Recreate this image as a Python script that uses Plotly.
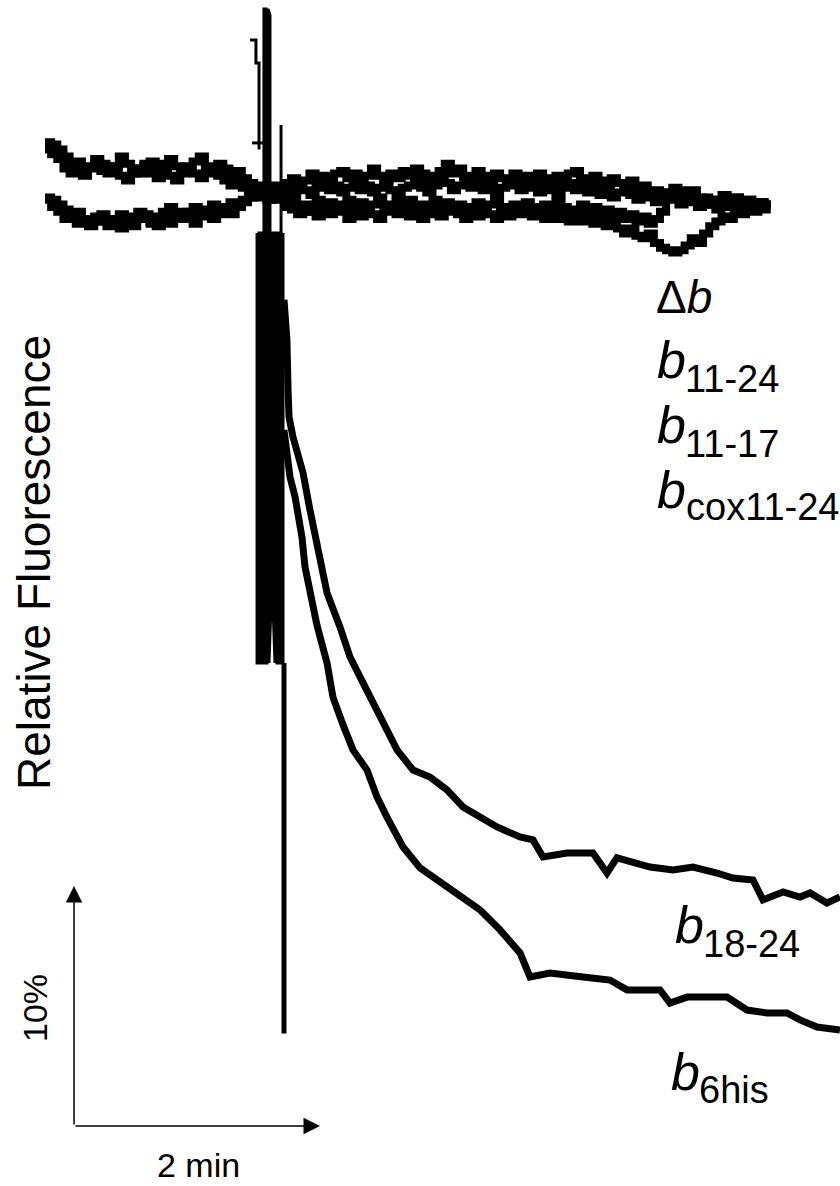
import plotly.graph_objects as go

# ---------------- data ----------------
# time in minutes (sampling 0.05 min for the non-binding traces), fluorescence in %
flat_dt = 0.05
F_delta_b = [102.2,102.1,101.9,101.6,101.3,101.4,101.1,101.2,101.5,101.3,
             101.0,101.2,101.6,101.3,101.1,100.9,101.2,101.4,101.0,101.3,
             101.5,101.2,100.9,101.1,101.4,101.6,101.2,101.0,101.3,101.1,
             100.8,101.0,100.7,100.5,100.4,
             100.3,100.2,100.4,100.3,
             100.5,100.7,100.4,100.6,100.9,100.6,100.8,100.5,100.9,101.0,
             100.7,100.9,100.6,100.8,101.1,100.8,100.6,100.9,100.7,101.0,
             100.8,101.1,100.9,100.6,100.8,101.0,101.3,100.9,101.1,100.8,
             100.7,101.0,100.8,100.5,100.9,100.7,100.6,100.9,100.5,100.8,
             100.6,100.9,100.7,100.4,100.8,100.6,100.9,101.0,100.7,100.5,
             100.8,100.6,100.4,100.7,100.5,100.3,100.6,100.2,100.4,100.0,
             100.2,99.9,100.1,100.3,100.0,99.8,100.0,99.7,99.9,99.6,
             99.8,99.5,99.7,99.9,99.6,99.8,99.5,99.7,99.6,99.6]
F_b11_24 = [101.9,101.7,101.5,101.1,100.9,101.0,100.8,101.1,101.3,101.0,
            100.9,101.2,100.8,100.6,100.9,101.1,101.3,100.9,100.7,101.0,
            100.8,100.6,101.0,101.2,100.9,100.7,100.9,101.1,100.8,100.6,
            100.4,100.6,100.3,100.1,100.2,
            100.0,99.9,100.1,100.2,
            100.3,100.1,100.4,100.2,100.0,100.3,100.5,100.2,100.4,100.1,
            100.3,100.6,100.2,100.4,100.1,100.3,100.5,100.2,100.0,100.3,
            100.4,100.6,100.3,100.1,100.4,100.7,100.5,100.2,100.4,100.6,
            100.3,100.5,100.2,100.4,100.1,100.3,100.6,100.4,100.2,100.5,
            100.3,100.1,100.4,100.2,100.0,100.3,100.5,100.2,100.4,100.1,
            100.3,100.0,100.2,99.9,100.1,100.3,100.0,99.8,100.1,99.9,
            99.7,99.9,100.1,99.8,99.6,99.9,99.7,99.5,99.8,99.6,
            99.4,99.7,99.5,99.8,99.6,99.4,99.7,99.5,99.6,99.6]
F_b11_17 = [99.9,99.8,99.6,99.4,99.1,99.3,99.0,98.8,99.1,98.9,
            98.7,99.0,99.2,98.9,99.1,99.3,99.0,98.8,99.1,99.3,
            99.5,99.2,99.0,99.3,99.5,99.2,99.4,99.6,99.3,99.5,
            99.7,99.5,99.8,99.9,100.0,
            99.9,100.0,99.8,99.9,
            99.6,99.4,99.2,99.5,99.3,99.1,99.4,99.2,99.5,99.3,
            99.0,99.3,99.1,99.4,99.2,99.0,99.3,99.5,99.2,99.4,
            99.1,99.3,99.0,99.2,99.4,99.1,99.3,99.5,99.2,99.0,
            99.3,99.1,99.4,99.2,99.0,99.3,99.1,99.4,99.2,99.3,
            99.1,99.3,99.0,99.2,99.0,99.2,98.9,99.1,98.9,99.1,
            98.8,99.0,98.7,98.9,98.6,98.4,98.6,98.3,98.2,98.4,
            98.0,97.8,97.7,97.6,97.7,97.9,98.2,98.0,98.4,98.7,
            98.9,99.1,99.0,99.3,99.2,99.4,99.3,99.5,99.4,99.4]
F_bcox11_24 = [99.8,99.5,99.3,99.0,99.2,98.8,99.0,98.7,98.9,99.2,
               99.0,98.8,98.6,98.9,98.7,99.0,99.2,98.9,98.7,99.0,
               98.8,99.1,99.3,99.0,98.8,99.1,99.3,99.0,99.2,99.4,
               99.2,99.5,99.7,99.9,100.1,
               100.0,99.8,100.0,99.9,
               99.5,99.8,99.6,99.3,99.6,99.8,99.5,99.7,99.4,99.6,
               99.8,99.5,99.7,99.4,99.6,99.9,99.6,99.4,99.7,99.5,
               99.8,99.6,99.3,99.6,99.8,99.5,99.7,99.4,99.6,99.3,
               99.5,99.7,99.4,99.6,99.8,99.5,99.3,99.6,99.4,99.7,
               99.5,99.3,99.6,99.4,99.7,99.5,99.2,99.4,99.6,99.3,
               99.5,99.2,99.4,99.1,99.3,99.0,99.2,98.9,99.1,98.8,
               99.0,99.3,99.9,100.1,100.2,100.0,100.2,99.9,99.8,99.6,
               99.8,100.0,99.7,99.9,99.6,99.8,99.5,99.7,99.6,99.6]

# binding traces (after mixing)
t_b18_24 = [1.943,1.967,1.976,1.984,2.016,2.049,2.098,2.154,2.236,2.293,2.398,2.480,
            2.561,2.667,2.780,2.862,2.992,3.130,3.268,3.398,3.537,3.675,3.862,3.967,
            4.049,4.244,4.455,4.569,4.650,4.919,5.106,5.268,5.463,5.593,5.756,5.837,
            6.000,6.138,6.220,6.358,6.463]
F_b18_24 = [95.63,93.96,91.88,90.75,89.92,89.29,88.42,86.88,84.92,83.42,82.00,80.75,
            79.92,78.83,77.83,76.88,76.04,75.75,75.21,74.50,74.08,73.67,73.25,73.13,
            72.42,72.58,72.58,71.75,72.38,72.00,71.88,72.00,71.75,71.54,71.46,70.63,
            70.96,70.75,70.92,70.50,70.75]
t_b6his = [1.943,1.967,1.992,2.033,2.049,2.073,2.089,2.114,2.154,2.211,2.293,2.341,
           2.423,2.504,2.618,2.699,2.780,2.911,3.049,3.211,3.374,3.537,3.699,3.862,
           3.943,4.106,4.374,4.593,4.732,5.000,5.081,5.220,5.545,5.707,5.870,6.033,
           6.138,6.276,6.463]
F_b6his = [90.21,89.38,88.25,87.42,87.00,86.38,85.75,84.50,83.42,82.08,80.50,79.08,
           77.92,76.88,76.04,74.92,74.08,72.83,71.96,71.38,70.75,70.21,69.38,68.42,
           67.42,67.58,67.42,67.29,66.88,66.88,66.33,66.58,66.58,66.04,65.92,65.92,
           65.63,65.33,65.21]

# mixing artefact
t_mix = [1.724,1.724,1.740,1.740,1.756,1.756,1.772,1.772,1.789,1.789,1.805,1.805,
         1.821,1.821,1.837,1.837,1.854,1.854,1.870,1.870,1.886,1.886,1.902,1.902,
         1.919,1.919,1.935,1.935,None,
         1.780,1.780,1.797,1.797,1.813,1.813,1.829,1.829,None,
         1.919,1.919,None,
         1.667,1.715,1.715,1.740,1.740,None,
         1.683,1.780,None,
         1.935,1.935,1.951,1.951]
F_mix = [98.42,80.50,80.50,98.42,98.42,80.50,80.50,98.42,98.42,80.50,80.50,98.42,
         98.42,80.50,82.83,98.42,98.42,82.83,80.50,98.42,98.42,80.50,80.50,98.42,
         98.42,80.50,80.50,98.42,None,
         98.42,107.75,107.75,98.42,98.42,107.75,107.50,98.42,None,
         98.42,102.92,None,
         106.46,106.46,105.50,105.50,101.90,None,
         102.17,102.17,None,
         80.50,65.13,65.13,80.50]

# scale bar
scale_t0, scale_F0 = 0.236, 61.21
scale_dt, scale_dF = 2, 10
scale_labels = ["2 min", "10%"]

labels_top = [("Δ", "b", ""), ("", "b", "11-24"), ("", "b", "11-17"), ("", "b", "cox11-24")]

# ---------------- figure ----------------
W, H = 840, 1186
FONT = "Liberation Sans, Arial, Helvetica, sans-serif"
fig = go.Figure()

for F in [F_delta_b, F_b11_24, F_b11_17, F_bcox11_24]:
    t = [round(flat_dt * i, 3) for i in range(len(F))]
    fig.add_trace(go.Scatter(x=t, y=F, mode="lines", line=dict(color="black", width=8, shape="hv"),
                             hoverinfo="skip"))

for t, F in [(t_b18_24, F_b18_24), (t_b6his, F_b6his)]:
    fig.add_trace(go.Scatter(x=t, y=F, mode="lines", line=dict(color="black", width=7),
                             hoverinfo="skip"))

fig.add_trace(go.Scatter(x=t_mix, y=F_mix, mode="lines", line=dict(color="black", width=3),
                         connectgaps=False, hoverinfo="skip"))

def px(x):
    return x / W

def py(y):
    return 1 - y / H

ann = []
# scale bar arrows
ann.append(dict(x=scale_t0, y=scale_F0 + scale_dF, ax=scale_t0, ay=scale_F0, xref="x", yref="y",
                axref="x", ayref="y", text="", showarrow=True, arrowhead=2, arrowsize=2.2,
                arrowwidth=1.5, arrowcolor="black"))
ann.append(dict(x=scale_t0 + scale_dt, y=scale_F0, ax=scale_t0, ay=scale_F0, xref="x", yref="y",
                axref="x", ayref="y", text="", showarrow=True, arrowhead=2, arrowsize=2.2,
                arrowwidth=1.5, arrowcolor="black"))

def text(t, x, y, size, angle=0, xanchor="center"):
    ann.append(dict(x=px(x), y=py(y), xref="paper", yref="paper", text=t, showarrow=False,
                    font=dict(family=FONT, size=size, color="black"), textangle=angle,
                    xanchor=xanchor, yanchor="middle", borderpad=0))

text("Relative Fluorescence", 34, 563, 46, angle=-90)
text(scale_labels[1], 35, 1008, 34, angle=-90)
text(scale_labels[0], 198, 1165, 34)

# Δb
text("Δ<i>b</i>", 655, 297, 46, xanchor="left")
# b labels with subscripts
b_rows = [(labels_top[1][2], 656, 360, 684, 379),
          (labels_top[2][2], 656, 425, 684, 444),
          (labels_top[3][2], 656, 490, 685, 507),
          ("18-24", 674, 925, 702, 944),
          ("6his", 670, 1072, 698, 1090)]
for sub, bx, by, sx, sy in b_rows:
    text("<i>b</i>", bx, by, 52, xanchor="left")
    text(sub, sx, sy, 38, xanchor="left")

fig.update_layout(
    width=W, height=H, autosize=False,
    margin=dict(l=0, r=0, t=0, b=0, pad=0),
    paper_bgcolor="white", plot_bgcolor="white",
    showlegend=False,
    xaxis=dict(visible=False, range=[-45 / 123, 795 / 123], fixedrange=True),
    yaxis=dict(visible=False, range=[100 - 991 / 24, 100 + 195 / 24], fixedrange=True),
    annotations=ann,
)

fig.write_html("out.html", config={"displayModeBar": False},
               post_script="document.body.style.margin='0';document.body.style.overflow='hidden';")
